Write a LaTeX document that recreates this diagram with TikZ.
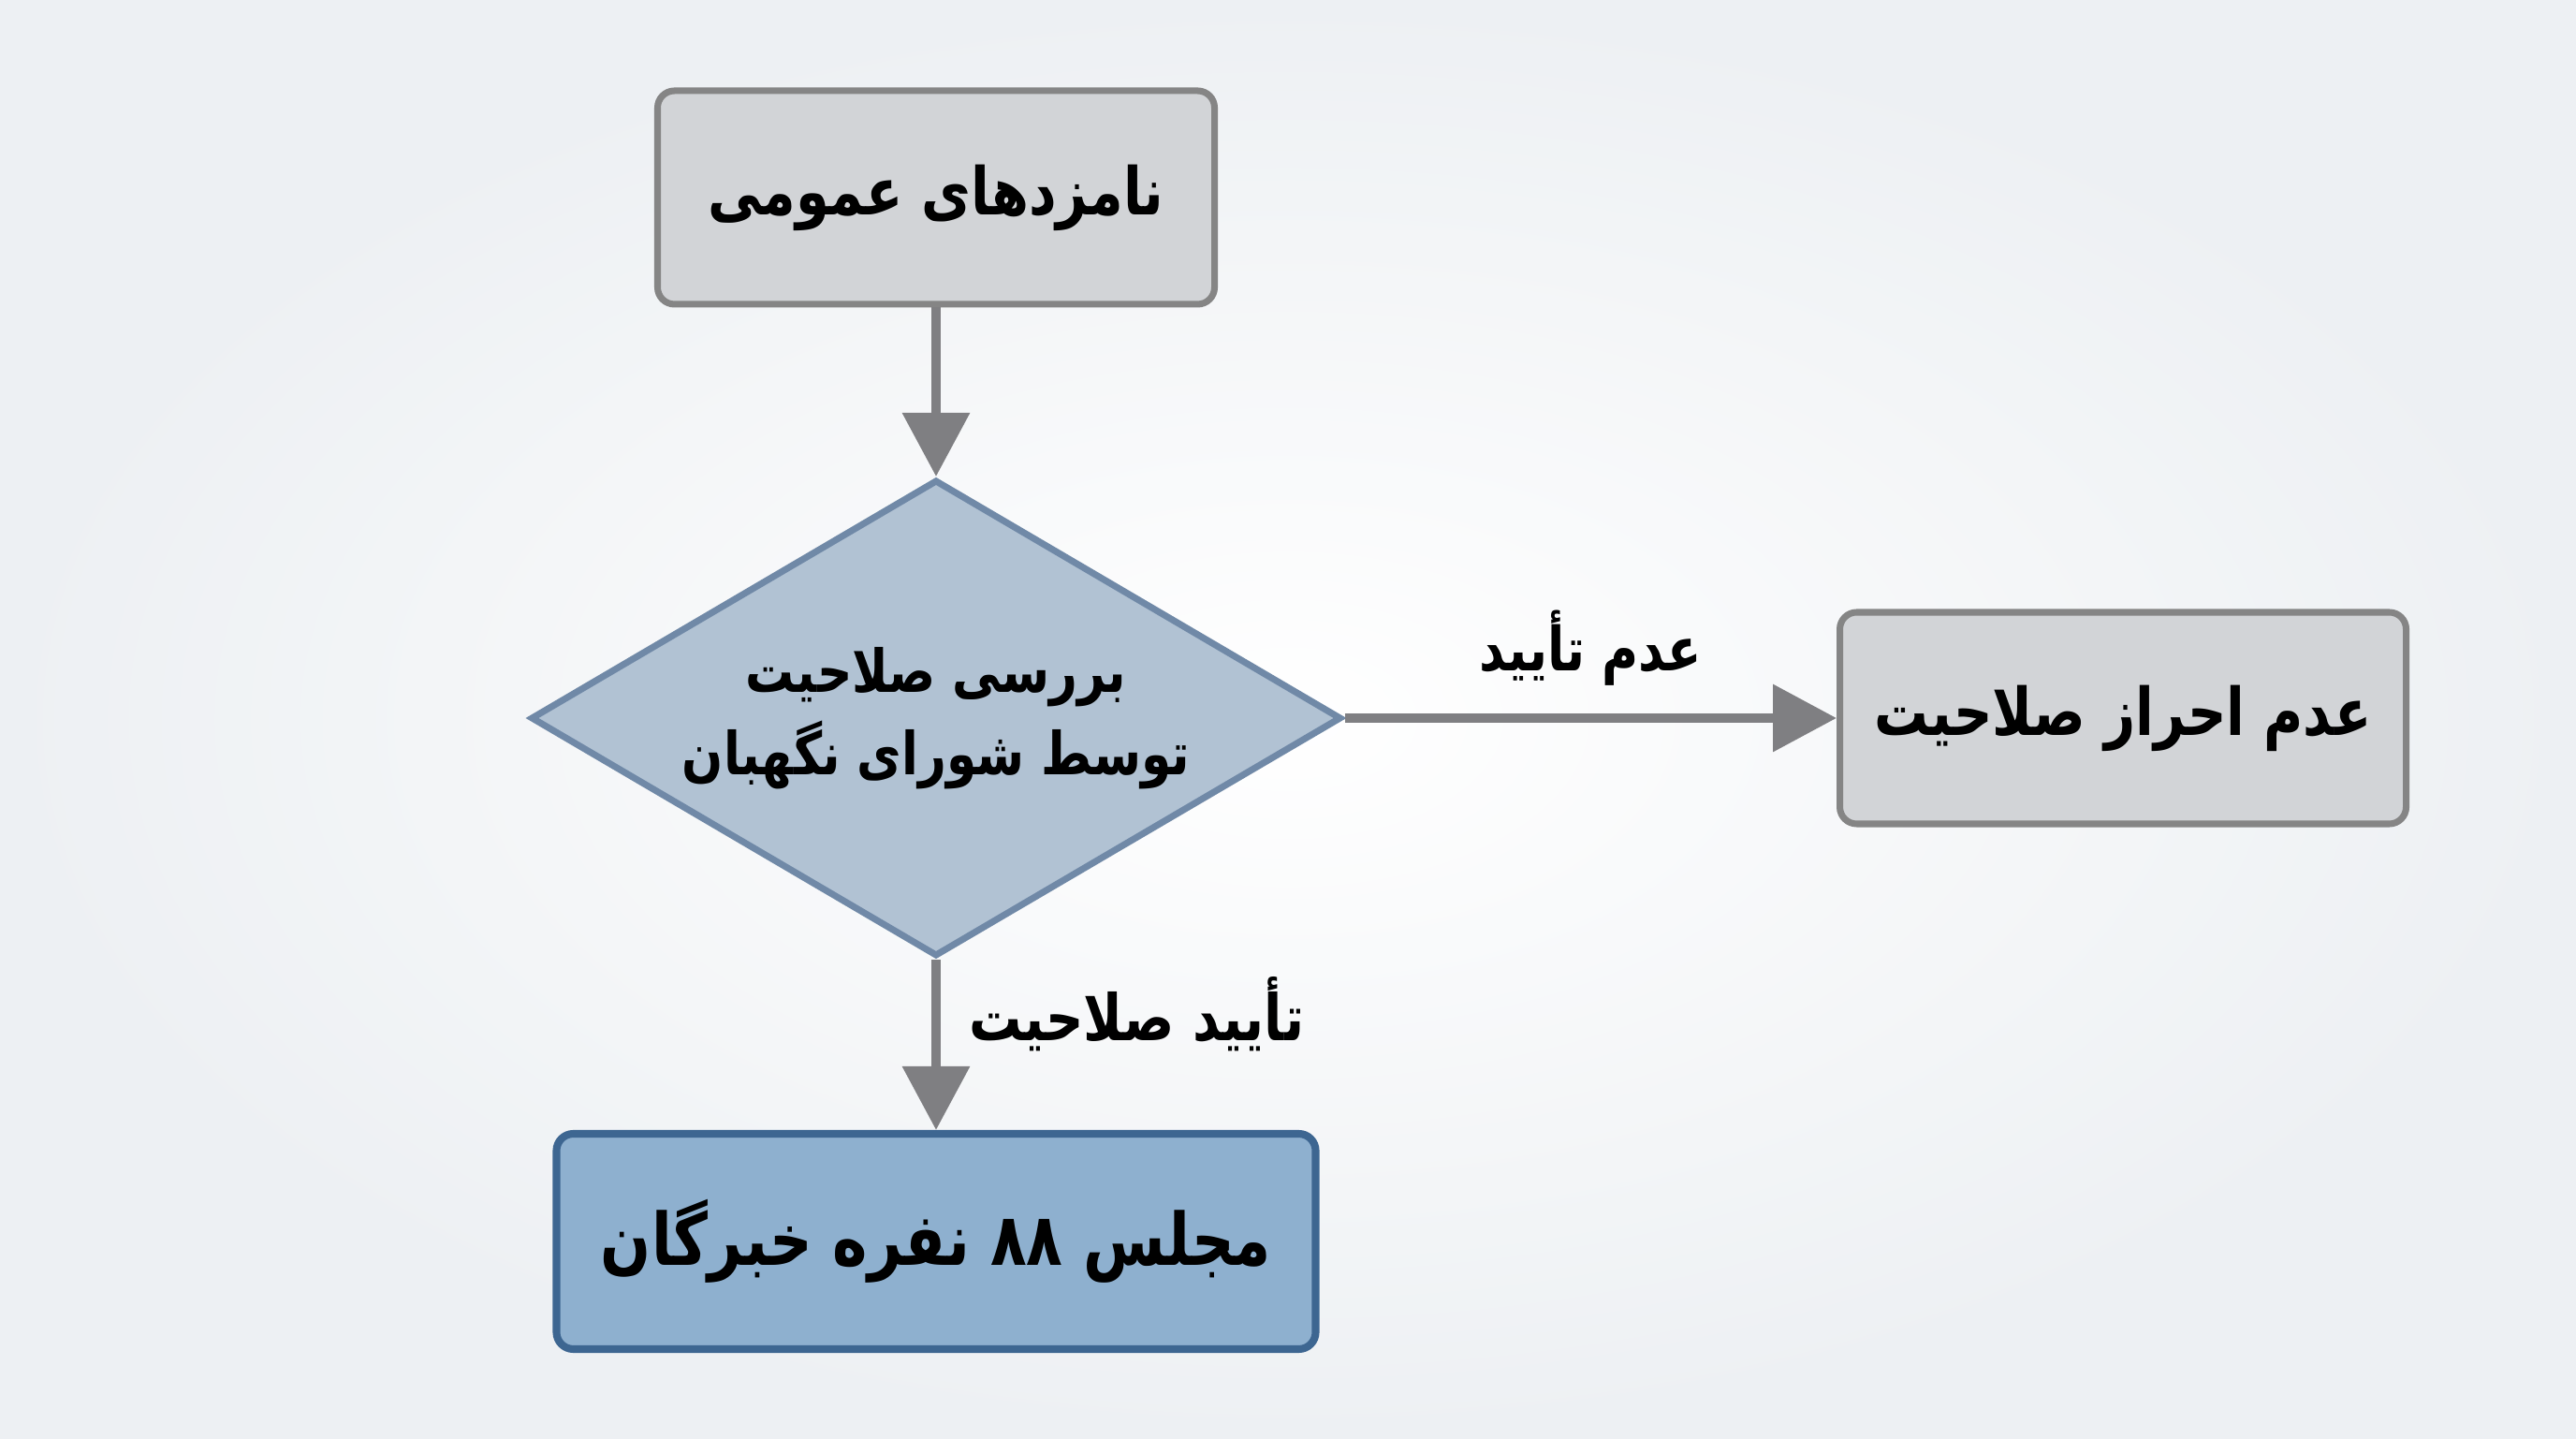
\documentclass[tikz,border=0pt]{standalone}
\usepackage{fontspec}
\newfontfamily\persianfont[Script=Arabic, FakeStretch=0.82]{DejaVu Sans}
\TeXXeTstate=1
\usetikzlibrary{shapes.geometric,arrows.meta,positioning}
\definecolor{bgedge}{HTML}{EDF0F3}
\definecolor{boxfill}{HTML}{D2D4D7}
\definecolor{boxedge}{HTML}{858585}
\definecolor{checkfill}{HTML}{B1C2D3}
\definecolor{checkedge}{HTML}{7089A7}
\definecolor{finalfill}{HTML}{8EB0CF}
\definecolor{finaledge}{HTML}{3D6691}
\definecolor{flowgray}{HTML}{7F7F82}
\newcommand{\fa}[1]{\beginR#1\endR}
\tikzset{
    box/.style={draw=boxedge, fill=boxfill, line width=2pt, rounded corners=0.18cm,
        minimum width=5.95cm, minimum height=2.28cm, inner sep=0pt,
        font=\persianfont\bfseries\fontsize{20}{24}\selectfont},
    check/.style={diamond, draw=checkedge, fill=checkfill, line width=2pt,
        minimum width=8.66cm, minimum height=5.09cm, aspect=1.7, inner sep=0pt,
        align=center, font=\persianfont\bfseries\fontsize{18}{25}\selectfont},
    final/.style={box, draw=finaledge, fill=finalfill, line width=2.3pt,
        minimum width=8.11cm, minimum height=2.30cm,
        font=\persianfont\bfseries\fontsize{22}{26}\selectfont},
    flow/.style={draw=flowgray, line width=0.1cm,
        -{Triangle[length=0.68cm, width=0.70cm]}},
    lbl/.style={inner sep=0pt, text=black,
        font=\persianfont\bfseries\fontsize{18.5}{22}\selectfont}
}
\begin{document}
\begin{tikzpicture}
    \shade[inner color=white, outer color=bgedge] (0,0) rectangle (27.52,15.36);
    \useasboundingbox (0,0) rectangle (27.52,15.36);

    \node[box] (candidates) at (10.0,13.25) {\fa{نامزدهای عمومی}};
    \node[check] (council) at (10.0,7.69) {\fa{بررسی صلاحیت}\\\fa{توسط شورای نگهبان}};
    \node[box, minimum width=6.05cm, minimum height=2.26cm] (rejected) at (22.68,7.69) {\fa{عدم احراز صلاحیت}};
    \node[final] (assembly) at (10.0,2.10) {\fa{مجلس ۸۸ نفره خبرگان}};

    \draw[flow] (candidates) -- (council);
    \draw[flow] (council) -- node[lbl, above=0.3cm] (reject label) {\fa{عدم تأیید}} (rejected);
    \draw[flow] (council) -- node[lbl, right=0.3cm, pos=0.32, font=\persianfont\bfseries\fontsize{19.5}{22}\selectfont] (accept label) {\fa{تأیید صلاحیت}} (assembly);
\end{tikzpicture}
\end{document}
